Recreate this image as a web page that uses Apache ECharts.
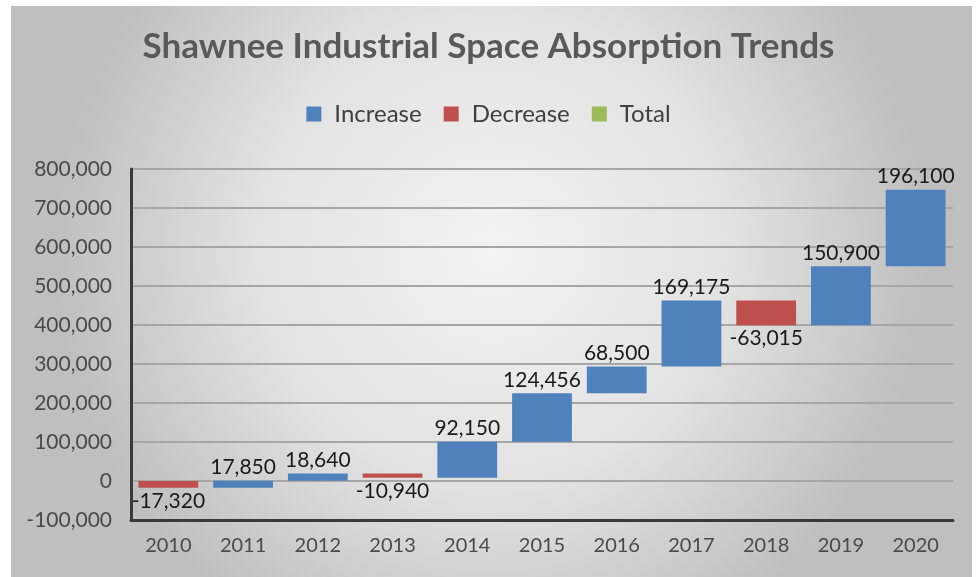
<!DOCTYPE html>
<html>
<head>
<meta charset="utf-8">
<script src="https://cdn.jsdelivr.net/npm/echarts@6/dist/echarts.min.js"></script>
<style>
  html, body { margin: 0; padding: 0; background: #ffffff; }
  #chart { width: 977px; height: 577px; }
</style>
</head>
<body>
<div id="chart"></div>
<script>
// Yearly net absorption (sq ft), Shawnee industrial market
const years = ['2010', '2011', '2012', '2013', '2014', '2015', '2016', '2017', '2018', '2019', '2020'];
const changes = [-17320, 17850, 18640, -10940, 92150, 124456, 68500, 169175, -63015, 150900, 196100];
const totals = [];
const yTicks = { min: -100000, max: 800000, step: 100000 };

const COLORS = { inc: '#4f81bd', dec: '#c0504d', tot: '#9bbb59' };
const FONT = 'Lato, "Open Sans", sans-serif';

// Running total: each bar floats from the previous level to the new one
const incData = [], decData = [];
let level = 0;
changes.forEach((v, i) => {
  const start = level, end = level + v;
  level = end;
  const row = [i, start, end, v];
  (v >= 0 ? incData : decData).push(row);
});

const fmt = v => v.toLocaleString('en-US');

function renderFloating(params, api) {
  const idx = api.value(0);
  const p1 = api.coord([idx, api.value(1)]);
  const p2 = api.coord([idx, api.value(2)]);
  const v = api.value(3);
  const w = api.size([1, 0])[0] * 0.8;
  const top = Math.min(p1[1], p2[1]);
  const h = Math.max(Math.abs(p1[1] - p2[1]), 1);
  return {
    type: 'rect',
    shape: { x: p1[0] - w / 2, y: top, width: w, height: h },
    style: { fill: v >= 0 ? COLORS.inc : COLORS.dec },
    textContent: {
      style: { text: fmt(v), fill: '#1a1a1a', font: '21px ' + FONT }
    },
    textConfig: { position: v >= 0 ? 'top' : 'bottom', distance: 3 }
  };
}

const chart = echarts.init(document.getElementById('chart'));
chart.setOption({
  animation: false,
  backgroundColor: '#ffffff',
  graphic: [{
    type: 'rect',
    z: -10,
    silent: true,
    shape: { x: 11, y: 6, width: 961, height: 580 },
    style: {
      fill: new echarts.graphic.RadialGradient(0.5, 0.42, 0.75, [
        { offset: 0, color: '#f3f3f3' },
        { offset: 0.55, color: '#e2e2e2' },
        { offset: 1, color: '#bfbfbf' }
      ])
    }
  }],
  title: {
    text: 'Shawnee Industrial Space Absorption Trends',
    left: 'center',
    top: 24,
    textStyle: { fontFamily: FONT, fontWeight: 'bold', fontSize: 35, color: '#595959' }
  },
  legend: {
    top: 97,
    left: 'center',
    icon: 'rect',
    itemWidth: 15,
    itemHeight: 15,
    itemGap: 22,
    textStyle: { fontFamily: FONT, fontSize: 24, color: '#404040', padding: [0, 0, 0, 8] },
    data: ['Increase', 'Decrease', 'Total']
  },
  grid: { left: 131, right: 24, top: 169, bottom: 57, containLabel: false },
  xAxis: {
    type: 'category',
    data: years,
    axisLine: { onZero: false, lineStyle: { color: '#3a3a3a', width: 3 } },
    axisTick: { show: false },
    axisLabel: { fontFamily: FONT, fontSize: 20, color: '#4a4a4a', margin: 16 },
    splitLine: { show: false }
  },
  yAxis: {
    type: 'value',
    min: yTicks.min,
    max: yTicks.max,
    interval: yTicks.step,
    axisLine: { show: true, lineStyle: { color: '#3a3a3a', width: 3 } },
    axisTick: { show: false },
    axisLabel: { fontFamily: FONT, fontSize: 21, color: '#4a4a4a', margin: 19, formatter: v => fmt(v) },
    splitLine: { lineStyle: { color: '#a6a6a6', width: 2 } }
  },
  series: [
    { name: 'Increase', type: 'custom', itemStyle: { color: COLORS.inc }, renderItem: renderFloating, encode: { x: 0, y: [1, 2] }, data: incData },
    { name: 'Decrease', type: 'custom', itemStyle: { color: COLORS.dec }, renderItem: renderFloating, encode: { x: 0, y: [1, 2] }, data: decData },
    { name: 'Total', type: 'custom', itemStyle: { color: COLORS.tot }, renderItem: renderFloating, encode: { x: 0, y: [1, 2] }, data: totals }
  ]
});
</script>
</body>
</html>
